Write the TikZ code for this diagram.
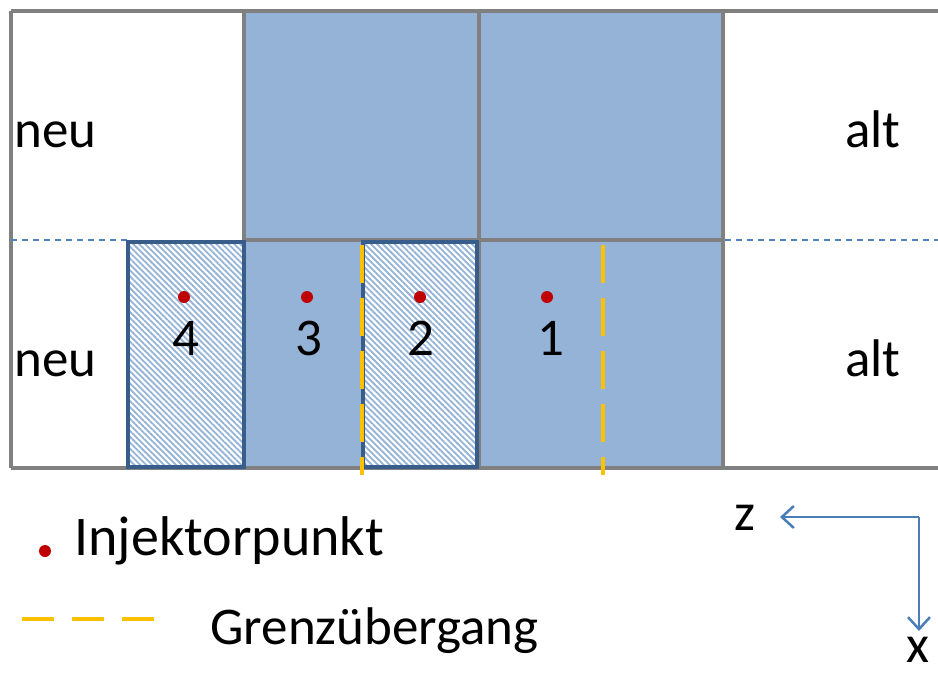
\documentclass[tikz,border=0pt]{standalone}
\usepackage{fontspec}
\setmainfont{Carlito}
\usetikzlibrary{patterns.meta,arrows.meta}
\definecolor{cellblue}{HTML}{95B3D7}
\definecolor{gridgray}{HTML}{808080}
\definecolor{boxblue}{HTML}{385D8A}
\definecolor{hatchblue}{HTML}{95B3D7}
\definecolor{dotred}{HTML}{C00000}
\definecolor{gold}{HTML}{FFC000}
\definecolor{axisblue}{HTML}{4A7EBB}
\definecolor{thinblue}{HTML}{4F81BD}
\begin{document}
\begin{tikzpicture}[x=0.5pt,y=-0.5pt,
  grid/.style={draw=gridgray,line width=2pt},
  hatchbox/.style={draw=boxblue,line width=2pt,preaction={fill=white},
     pattern={Lines[angle=-45,distance=2.1pt,line width=0.9pt]},pattern color=hatchblue},
  border/.style={gold,line width=1.75pt,dash pattern=on 19pt off 7.5pt},
  thindash/.style={thinblue,line width=0.75pt,dash pattern=on 3pt off 2.5pt},
  dot/.style={circle,fill=dotred,inner sep=0pt,minimum size=6pt},
  lbl/.style={inner sep=0pt,font=\fontsize{26.5}{32}\selectfont},
  axis/.style={axisblue,line width=1.25pt,-{Straight Barb[length=6pt,width=11pt]}}]
\useasboundingbox (0,0) rectangle (938,675);
% blue area
\fill[cellblue] (244,11) rectangle (723,468);
% grid
\draw[grid] (11,11) -- (938,11);
\draw[grid] (11,468) -- (938,468);
\draw[grid] (11,11) -- (11,468);
\draw[grid] (244,11) -- (244,240);
\draw[grid] (479,11) -- (479,468);
\draw[grid] (723,11) -- (723,468);
\draw[grid] (244,240) -- (723,240);
% thin dashed
\draw[thindash] (11,240) -- (128,240);
\draw[thindash] (725,240) -- (938,240);
% hatched boxes
\draw[hatchbox] (128,242) rectangle (244,467);
\draw[hatchbox] (363,242) rectangle (477,467);
% boundary crossings
\draw[border] (362,245) -- (362,475);
\draw[border] (603,245) -- (603,475);
% injector points
\node[dot] (d4) at (184,297) {};
\node[dot] (d3) at (307,297) {};
\node[dot] (d2) at (420,297) {};
\node[dot] (d1) at (547,297) {};
\node[lbl,anchor=base] (n4) at (186,355) {4};
\node[lbl,anchor=base] (n3) at (309,355) {3};
\node[lbl,anchor=base] (n2) at (421,355) {2};
\node[lbl,anchor=base] (n1) at (551,355) {1};
% labels
\node[lbl,anchor=base west] (neuA) at (14,147) {neu};
\node[lbl,anchor=base west] (neuB) at (14,376) {neu};
\node[lbl,anchor=base west] (altA) at (845,147) {alt};
\node[lbl,anchor=base west] (altB) at (845,376) {alt};
% legend
\node[dot] (ld) at (45,551) {};
\node[lbl,anchor=base west,font=\fontsize{28}{34}\selectfont] (linj) at (74,555) {Injektorpunkt};
\draw[gold,line width=2pt,dash pattern=on 16pt off 9pt] (22,619) -- (157,619);
\node[lbl,anchor=base west] (lgr) at (210,644) {Grenzübergang};
% axes
\coordinate (ax0) at (919,517);
\coordinate (axz) at (780,517);
\coordinate (axx) at (919,631);
\draw[axis] (ax0) -- (axz);
\draw[axis] (ax0) -- (axx);
\node[lbl] (zl) at (745,518) {z};
\node[lbl] (xl) at (918,650) {x};
\end{tikzpicture}
\end{document}
